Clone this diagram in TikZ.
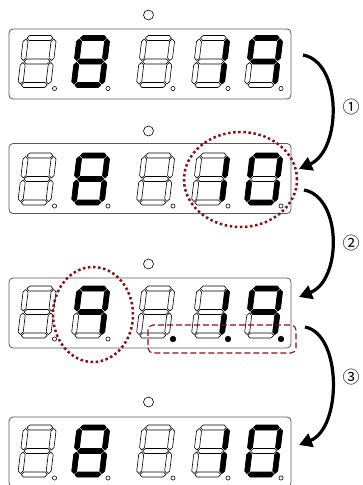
\documentclass[tikz,border=0pt]{standalone}
\usepackage{fontspec}
\newfontfamily\cjk{Noto Sans CJK JP}
\usetikzlibrary{arrows.meta}
\definecolor{dred}{RGB}{130,20,22}
\definecolor{pgray}{RGB}{90,90,90}
\tikzset{
  off/.style={draw=black,fill=white,line width=0.6pt,line join=round},
  lit/.style={draw=black,fill=black,line width=0.7pt,line join=round},
  dpoff/.style={draw=black,fill=white,line width=0.55pt,radius=2.1},
  dpon/.style={draw=black,fill=black,line width=0.6pt,radius=2.8},
  panel/.style={draw=pgray,line width=0.8pt,rounded corners=4pt,minimum width=282pt,minimum height=70pt,inner sep=0pt},
  led/.style={draw=black,line width=0.6pt,circle,minimum size=10pt,inner sep=0pt},
  flow/.style={line width=3.2pt,-{Triangle[length=13pt,width=14pt]}},
  lab/.style={font=\cjk\fontsize{17pt}{17pt}\selectfont,inner sep=0pt},
  dotring/.style={draw=dred,line width=2.5pt,dash pattern=on 2.5pt off 2.6pt},
  dashbox/.style={draw=dred,line width=1.1pt,dash pattern=on 6pt off 3pt,rounded corners=5pt},
  showeight/.style={segA/.style=lit,segB/.style=lit,segC/.style=lit,segD/.style=lit,segE/.style=lit,segF/.style=lit,segG/.style=lit},
  showone/.style={segB/.style=lit,segC/.style=lit},
  showzero/.style={segA/.style=lit,segB/.style=lit,segC/.style=lit,segD/.style=lit,segE/.style=lit,segF/.style=lit},
  showfour/.style={segA/.style=lit,segB/.style=lit,segC/.style=lit,segF/.style=lit,segG/.style=lit},
  dotlit/.style={segDP/.style=dpon}
}
% #1 = x of bottom-left, #2 = y (px, downward) of bottom, #3 = lit overrides
\newcommand{\sevenseg}[3]{%
\begin{scope}[segA/.style=off,segB/.style=off,segC/.style=off,segD/.style=off,
  segE/.style=off,segF/.style=off,segG/.style=off,segDP/.style=dpoff,#3]
\begin{scope}[shift={(#1,-#2)},xslant=0.12]
\draw[segA] (3.5,49.5)--(6,52)--(27,52)--(29.5,49.5)--(27,47)--(6,47)--cycle;
\draw[segG] (3.5,26)--(6,28.5)--(27,28.5)--(29.5,26)--(27,23.5)--(6,23.5)--cycle;
\draw[segD] (3.5,2.5)--(6,5)--(27,5)--(29.5,2.5)--(27,0)--(6,0)--cycle;
\draw[segB] (30.5,27)--(33,29.5)--(33,46)--(30.5,48.5)--(28,46)--(28,29.5)--cycle;
\draw[segC] (30.5,3.5)--(33,6)--(33,22.5)--(30.5,25)--(28,22.5)--(28,6)--cycle;
\draw[segF] (2.5,27)--(5,29.5)--(5,46)--(2.5,48.5)--(0,46)--(0,29.5)--cycle;
\draw[segE] (2.5,3.5)--(5,6)--(5,22.5)--(2.5,25)--(0,22.5)--(0,6)--cycle;
\end{scope}
\begin{scope}[shift={(#1,-#2)}]
\draw[segDP] (37,-1) circle;
\end{scope}
\end{scope}}
\begin{document}
\begin{tikzpicture}[x=1pt,y=1pt]
\useasboundingbox (0,0) rectangle (363,-485);
% panels and indicator leds
\node[panel] (p1) at (150,-64) {};
\node[panel] (p2) at (150,-178.5) {};
\node[panel] (p3) at (150,-313) {};
\node[panel] (p4) at (150,-452) {};
\node[led] (l1) at (148.5,-15) {};
\node[led] (l2) at (148.5,-131) {};
\node[led] (l3) at (148.5,-264) {};
\node[led] (l4) at (148.5,-402) {};
% panel 1
\sevenseg{17.5}{87.5}{}
\sevenseg{71}{87.5}{showeight}
\sevenseg{136}{87.5}{}
\sevenseg{191}{87.5}{showone}
\sevenseg{244}{87.5}{showfour}
% panel 2
\sevenseg{17.5}{205}{}
\sevenseg{71}{205}{showeight}
\sevenseg{136}{205}{}
\sevenseg{191}{205}{showone}
\sevenseg{244}{205}{showzero}
% panel 3
\sevenseg{17.5}{338}{}
\sevenseg{71}{338}{showfour}
\sevenseg{136}{338}{dotlit}
\sevenseg{191}{338}{showone,dotlit}
\sevenseg{244}{338}{showfour,dotlit}
% panel 4
\sevenseg{17.5}{477}{}
\sevenseg{71}{477}{showeight}
\sevenseg{136}{477}{}
\sevenseg{191}{477}{showone}
\sevenseg{244}{477}{showzero}
% highlights
\draw[dotring] (240.5,-179.5) ellipse [x radius=56.5, y radius=47.5];
\draw[dotring] (93,-314.5) ellipse [x radius=40, y radius=47.5];
\draw[dashbox] (148,-325) rectangle (296,-353);
% arrows
\coordinate (s1) at (303,-55);
\coordinate (e1) at (299,-169);
\coordinate (s2) at (304,-190);
\coordinate (e2) at (299,-297);
\coordinate (s3) at (305,-327);
\coordinate (e3) at (299,-445);
\draw[flow] (s1) .. controls (342,-62) and (342,-150) .. (e1);
\draw[flow] (s2) .. controls (342,-197) and (342,-280) .. (e2);
\draw[flow] (s3) .. controls (342,-334) and (342,-428) .. (e3);
\node[lab] (n1) at (351,-107) {①};
\node[lab] (n2) at (351,-243) {②};
\node[lab] (n3) at (351,-377) {③};
\end{tikzpicture}
\end{document}
